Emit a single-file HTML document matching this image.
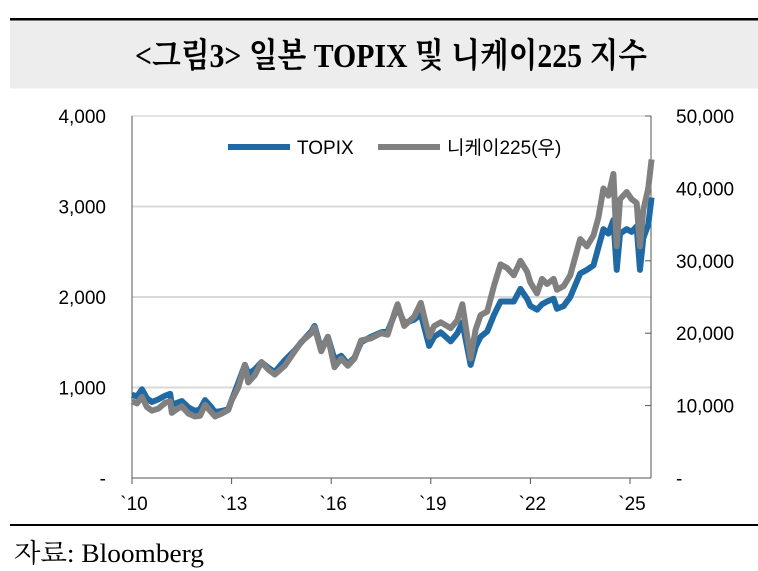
<!DOCTYPE html>
<html><head><meta charset="utf-8"><style>
body{margin:0;background:#fff;}
svg{display:block;font-family:"Liberation Sans","Noto Sans CJK KR",sans-serif;}
</style></head><body>
<svg id="chart" width="758" height="571" viewBox="0 0 758 571">
<rect x="10" y="18" width="748" height="2.5" fill="#000"/>
<rect x="10" y="20.5" width="748" height="68" fill="#ededed"/>
<text x="391" y="67" text-anchor="middle" font-family="Liberation Serif,'Noto Serif CJK SC',serif" font-weight="bold" font-size="34" textLength="512" lengthAdjust="spacingAndGlyphs">&lt;그림3&gt; 일본 TOPIX 및 니케이225 지수</text>
<g id="grid"></g>
<rect x="132" y="116" width="519" height="362" fill="none" stroke="#c8c8c8" stroke-width="1"/>
<line x1="132" y1="116" x2="132" y2="478" stroke="#555"/>
<line x1="651" y1="116" x2="651" y2="478" stroke="#555"/>
<line x1="132" y1="478" x2="651" y2="478" stroke="#555"/>
<g id="axes" font-size="19"></g>
<g id="series"></g>
<g>
<line x1="228" y1="147" x2="290" y2="147" stroke="#1f6aa5" stroke-width="6"/>
<text x="297" y="154" font-size="19">TOPIX</text>
<line x1="378" y1="147" x2="440" y2="147" stroke="#808080" stroke-width="6"/>
<text x="447" y="154" font-size="19">니케이225(우)</text>
</g>
<rect x="10" y="524" width="748" height="2" fill="#000"/>
<text x="14" y="562" font-family="Liberation Serif,'Noto Serif CJK KR',serif" font-size="26" textLength="190" lengthAdjust="spacingAndGlyphs">자료: Bloomberg</text>
</svg>
<script>
const dates=[2010.0,2010.15,2010.3,2010.45,2010.6,2010.8,2011.0,2011.15,2011.2,2011.35,2011.5,2011.7,2011.9,2012.05,2012.2,2012.35,2012.5,2012.7,2012.9,2013.0,2013.2,2013.4,2013.5,2013.7,2013.9,2014.1,2014.3,2014.6,2014.9,2015.1,2015.4,2015.5,2015.7,2015.9,2016.1,2016.3,2016.5,2016.7,2016.9,2017.2,2017.5,2017.7,2017.9,2018.0,2018.2,2018.5,2018.7,2018.95,2019.1,2019.3,2019.6,2019.8,2019.95,2020.2,2020.35,2020.5,2020.7,2020.9,2021.1,2021.3,2021.5,2021.7,2021.9,2022.0,2022.2,2022.35,2022.5,2022.7,2022.8,2023.0,2023.2,2023.5,2023.7,2023.9,2024.05,2024.2,2024.35,2024.5,2024.6,2024.7,2024.9,2025.05,2025.2,2025.3,2025.4,2025.55,2025.65];
const topix=[920,900,980,880,840,870,910,930,810,830,850,780,740,760,860,800,730,740,760,860,1050,1250,1150,1200,1280,1220,1170,1300,1410,1500,1620,1680,1420,1560,1310,1350,1260,1330,1500,1560,1610,1620,1800,1890,1710,1750,1810,1460,1560,1610,1510,1600,1720,1250,1450,1560,1620,1800,1950,1950,1950,2090,1980,1900,1860,1920,1950,1980,1870,1900,2000,2260,2300,2350,2550,2750,2700,2850,2300,2700,2750,2720,2780,2300,2650,2800,3100];
const nikkei=[10600,10300,11200,9800,9300,9600,10400,10600,9000,9500,9900,8900,8500,8600,10100,9300,8500,8900,9400,10700,12500,15600,13200,14200,16000,15000,14300,15500,17500,18800,20000,20800,17500,19500,15300,16500,15500,16500,19000,19300,20000,19800,22700,24000,21000,22300,24200,19500,21000,21500,20700,21800,24000,16500,20500,22500,23000,26500,29500,29000,28000,30000,28500,27000,25500,27500,26800,27500,26000,26500,28000,33000,32000,33500,36000,40000,39000,42000,32000,38500,39500,38500,38000,32000,37000,40000,44000];
const leftTicks=[0,1000,2000,3000,4000];
const leftLabels=["-","1,000","2,000","3,000","4,000"];
const rightTicks=[0,10000,20000,30000,40000,50000];
const rightLabels=["-","10,000","20,000","30,000","40,000","50,000"];
const xTicks=[2010,2013,2016,2019,2022,2025];
const xLabels=["`10","`13","`16","`19","`22","`25"];
const NS="http://www.w3.org/2000/svg";
const X0=132,XW=33.2,YB=478,PH=362;
const xs=d=>X0+(d-2010)*XW;
const yl=v=>YB-v/4000*PH;
const yr=v=>YB-v/50000*PH;
function mk(tag,attrs,parent){const e=document.createElementNS(NS,tag);for(const k in attrs)e.setAttribute(k,attrs[k]);parent.appendChild(e);return e;}
const grid=document.getElementById('grid'),axes=document.getElementById('axes'),series=document.getElementById('series');
leftTicks.forEach((v,i)=>{
 if(v>0&&v<4000){const g=mk('line',{x1:132,x2:651,y1:yl(v),y2:yl(v),stroke:'#d9d9d9','stroke-width':2},grid);
 
 }
 const t=mk('text',{x:106,y:yl(v)+7,'text-anchor':'end'},axes);t.textContent=leftLabels[i];
 
 
});
rightTicks.forEach((v,i)=>{
 const t=mk('text',{x:676,y:yr(v)+7,'text-anchor':'start'},axes);t.textContent=rightLabels[i];
 
 
 mk('line',{x1:645,x2:651,y1:yr(v),y2:yr(v),stroke:'#555'},axes);
});
xTicks.forEach((v,i)=>{
 mk('line',{x1:xs(v),x2:xs(v),y1:478,y2:484,stroke:'#555'},axes);
 const t=mk('text',{x:xs(v)+2,y:510,'text-anchor':'middle'},axes);t.textContent=xLabels[i];
 
 
});
const p1=mk('polyline',{points:dates.map((d,i)=>xs(d)+','+yl(topix[i])).join(' '),fill:'none',stroke:'#1f6aa5','stroke-width':6,'stroke-linejoin':'round'},series);


const p2=mk('polyline',{points:dates.map((d,i)=>xs(d)+','+yr(nikkei[i])).join(' '),fill:'none',stroke:'#808080','stroke-width':6,'stroke-linejoin':'round'},series);


</script>
</body></html>
